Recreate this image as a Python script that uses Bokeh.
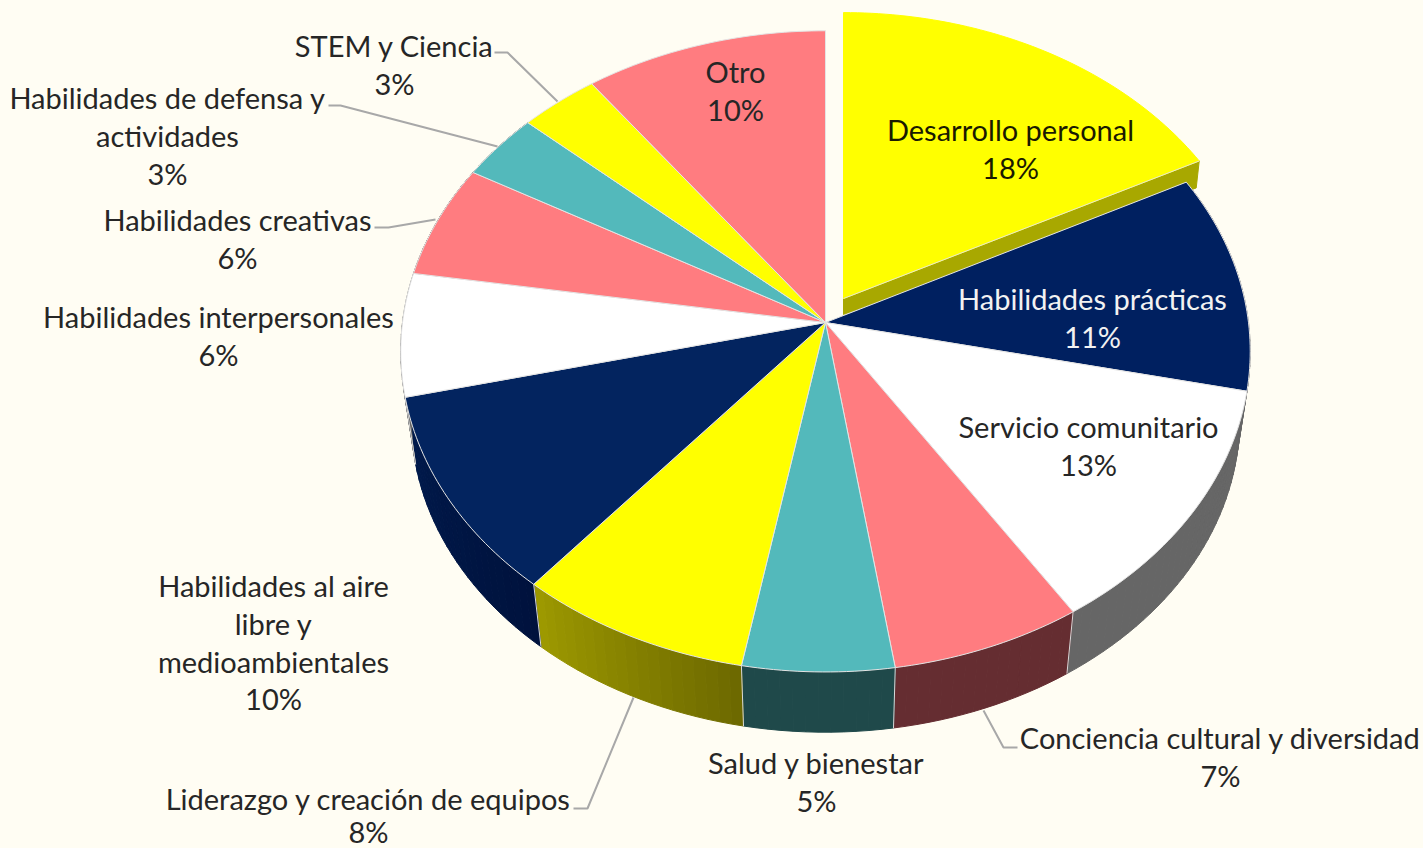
import math
from bokeh.plotting import figure
from bokeh.embed import file_html
from bokeh.resources import INLINE
from bokeh.core.properties import value

# --- data ---
categories = ["Desarrollo personal", "Habilidades prácticas", "Servicio comunitario",
              "Conciencia cultural y diversidad", "Salud y bienestar",
              "Liderazgo y creación de equipos", "Habilidades al aire libre y medioambientales",
              "Habilidades interpersonales", "Habilidades creativas",
              "Habilidades de defensa y actividades", "STEM y Ciencia", "Otro"]
percent_labels = [18, 11, 13, 7, 5, 8, 10, 6, 6, 3, 3, 10]
# unrounded shares
shares = [17.4, 11.0, 12.5, 6.7, 5.3, 8.2, 10.2, 6.2, 5.7, 3.4, 3.3, 10.1]

# --- styles ---
BG = "#FFFDF3"
face_colors = ["#FFFF00", "#002060", "#FFFFFF", "#FF7C80", "#53B9BB", "#FFFF00",
               "#03245F", "#FFFFFF", "#FF7C80", "#53B9BB", "#FFFF00", "#FF7C80"]
wall_colors = [("#A8A800", "#A8A800"), ("#666666", "#666666"), ("#666666", "#666666"),
               ("#652D31", "#652D31"), ("#1F494A", "#1F494A"), ("#6C6800", "#9E9A00"),
               ("#00123D", "#001A4C"), ("#666666", "#666666"), ("#652D31", "#652D31"),
               ("#1F494A", "#1F494A"), ("#6C6800", "#6C6800"), ("#652D31", "#652D31")]

# --- 3-D projection of the pie (pixels of the page) ---
CX, CY, RX, RY, PERSP = 825.0, 322.0, 423.0, 318.0, 0.09
BASE_K, BASE_H = 0.975, 69.0
EXPL_DX, EXPL_DY, EXPL_KX, EXPL_KY = 18.0, -24.0, 0.986, 0.98


def rim(a):
    s = 1.0 / (1.0 + PERSP * math.cos(a))
    return CX + RX * math.sin(a) * s, CY - RY * math.cos(a) * s


def base(a):
    x, y = rim(a)
    return CX + (x - CX) * BASE_K, CY + (y - CY) * BASE_K + BASE_H


def mix(c0, c1, t):
    a = [int(c0[i:i + 2], 16) for i in (1, 3, 5)]
    b = [int(c1[i:i + 2], 16) for i in (1, 3, 5)]
    return "#%02x%02x%02x" % tuple(round(u + (v - u) * t) for u, v in zip(a, b))


def expl(pt):
    return (CX + EXPL_DX + (pt[0] - CX) * EXPL_KX, CY + EXPL_DY + (pt[1] - CY) * EXPL_KY)


total = sum(shares)
bounds = [0.0]
for v in shares:
    bounds.append(bounds[-1] + v / total * 2 * math.pi)

p = figure(width=1423, height=848, x_range=(0, 1423), y_range=(848, 0),
           toolbar_location=None, output_backend="svg", min_border=0,
           background_fill_color=BG, border_fill_color=BG, outline_line_color=None)
p.axis.visible = False
p.grid.visible = False

# walls (strips so the shading can vary along the rim)
wx, wy, wc = [], [], []
for i in range(1, 12):
    a0, a1 = bounds[i], bounds[i + 1]
    if a1 < math.radians(60) or a0 > math.radians(300):
        continue
    n = max(2, int(math.degrees(a1 - a0) / 1.5))
    for k in range(n):
        t0, t1 = a0 + (a1 - a0) * k / n, a0 + (a1 - a0) * (k + 1) / n
        pts = [rim(t0), rim(t1), base(t1), base(t0)]
        wx.append([q[0] for q in pts])
        wy.append([q[1] for q in pts])
        wc.append(mix(wall_colors[i][0], wall_colors[i][1], (k + .5) / n))
p.patches(wx, wy, fill_color=wc, line_color=wc, line_width=1)

# exploded slice: cut wall, then face drawn after neighbours
a_end = bounds[1]
e_apex = expl((CX, CY))
e_end = expl(rim(a_end))
e_apex_b = (e_apex[0], e_apex[1] + 16)
e_end_b = (e_end[0] - 3, e_end[1] + 27)
p.patch([e_apex[0], e_end[0], e_end_b[0], e_apex_b[0]],
        [e_apex[1], e_end[1], e_end_b[1], e_apex_b[1]],
        fill_color=wall_colors[0][0], line_color=wall_colors[0][0])

# dividers on the walls
sx0, sy0, sx1, sy1 = [], [], [], []
for i in range(3, 8):
    a = bounds[i]
    q0, q1 = rim(a), base(a)
    sx0.append(q0[0]); sy0.append(q0[1]); sx1.append(q1[0]); sy1.append(q1[1])
p.segment(sx0, sy0, sx1, sy1, line_color="#D9D9D9", line_width=1)

# top faces
fx, fy, fc = [], [], []
for i in range(1, 12):
    a0, a1 = bounds[i], bounds[i + 1]
    n = max(4, int(math.degrees(a1 - a0)))
    pts = [(CX, CY)] + [rim(a0 + (a1 - a0) * k / n) for k in range(n + 1)]
    fx.append([q[0] for q in pts])
    fy.append([q[1] for q in pts])
    fc.append(face_colors[i])
p.patches(fx, fy, fill_color=fc, line_color="#E4E4E4", line_width=1)

n = 60
pts = [expl((CX, CY))] + [expl(rim(bounds[1] * k / n)) for k in range(n + 1)]
p.patch([q[0] for q in pts], [q[1] for q in pts], fill_color=face_colors[0],
        line_color=face_colors[0], line_width=1)
p.line([e_apex[0], e_end[0]], [e_apex[1], e_end[1]], line_color="#E8E8D0", line_width=1)

# leader lines
leaders = [
    ([494, 507, 557], [52, 52, 101]),
    ([328, 340, 497], [105, 105, 146]),
    ([374, 388, 435], [227, 227, 219]),
    ([983, 1003, 1017], [710, 747, 747]),
    ([573, 587, 633], [808, 808, 697]),
]
for lx, ly in leaders:
    p.line(lx, ly, line_color="#A8A8A8", line_width=2)

# labels: text lines for each slice, centre x, y of the first line, line spacing
label_lines = [
    (["Desarrollo personal"], 1010, 129, 37.8, "#1A1A00"),
    (["Habilidades prácticas"], 1092, 298, 37.8, "#F2F2F2"),
    (["Servicio comunitario"], 1088, 426, 37.8, "#262626"),
    (["Conciencia cultural y diversidad"], 1220, 737, 37.8, "#262626"),
    (["Salud y bienestar"], 816, 762, 37.8, "#262626"),
    (["Liderazgo y creación de equipos"], 368, 798, 33.0, "#262626"),
    (["Habilidades al aire", "libre y", "medioambientales"], 273, 585, 37.8, "#262626"),
    (["Habilidades interpersonales"], 218, 316, 37.8, "#262626"),
    (["Habilidades creativas"], 237, 219, 37.8, "#262626"),
    (["Habilidades de defensa y", "actividades"], 167, 97, 37.8, "#262626"),
    (["STEM y Ciencia"], 394, 45, 37.8, "#262626"),
    (["Otro"], 735, 71, 37.8, "#262626"),
]
tx, ty, tt, tc = [], [], [], []
for (lines, x, y, step, col), pct in zip(label_lines, percent_labels):
    for j, s in enumerate(lines + [f"{pct}%"]):
        tx.append(x); ty.append(y + j * step); tt.append(s); tc.append(col)
p.text(tx, ty, text=tt, text_color=tc, text_font=value("Lato"), text_font_size="29px",
       text_align="center", text_baseline="middle")

html = file_html(p, INLINE)
html = html.replace("</head>", "<style>html,body{margin:0;padding:0;overflow:hidden;background:%s}</style></head>" % BG, 1)
open("out.html", "w").write(html)
